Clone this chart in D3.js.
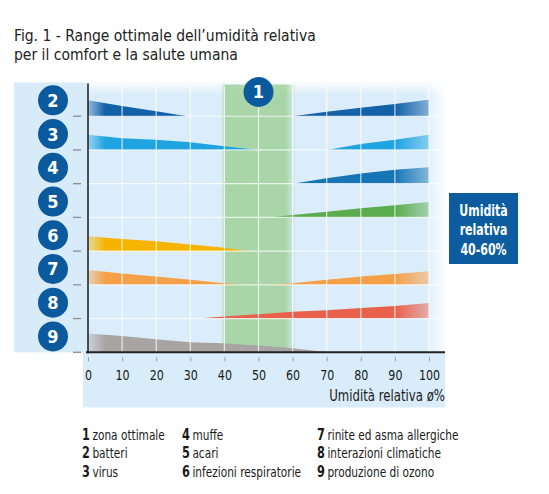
<!DOCTYPE html>
<html>
<head>
<meta charset="utf-8">
<script src="https://cdn.jsdelivr.net/npm/d3@7"></script>
<style>
  html, body { margin: 0; padding: 0; background: #fff; }
  svg { display: block; }
  text { font-family: "DejaVu Sans Condensed", "Liberation Sans Narrow", sans-serif; }
</style>
</head>
<body>
<div id="chart"></div>
<script>
// dati
const titleLines = ['Fig. 1  - Range ottimale dell\u2019umidità relativa', 'per il comfort e la salute umana'];
const rowIds = ['2', '3', '4', '5', '6', '7', '8', '9'];
const xTicks = [0, 10, 20, 30, 40, 50, 60, 70, 80, 90, 100];
const optimalRange = [40, 60];
const boxLines = ['Umidità', 'relativa', '40-60%'];
const axisTitle = 'Umidità relativa ø%';

// legenda: [numero, testo]
const legendCol1 = [['1', 'zona ottimale'], ['2', 'batteri'], ['3', 'virus']];
const legendCol2 = [['4', 'muffe'], ['5', 'acari'], ['6', 'infezioni respiratorie']];
const legendCol3 = [['7', 'rinite ed asma allergiche'], ['8', 'interazioni climatiche'], ['9', 'produzione di ozono']];

// cunei: [umidità %, intensità relativa 0-1 della riga]
const batteriLeft  = [[0, 0.47], [10, 0.30], [20, 0.15], [29, 0]];
const batteriRight = [[60, 0], [70, 0.13], [80, 0.25], [90, 0.36], [100, 0.49]];
const virusLeft    = [[0, 0.45], [10, 0.35], [20, 0.30], [30, 0.23], [40, 0.11], [50, 0]];
const virusRight   = [[70, 0], [80, 0.18], [90, 0.30], [100, 0.45]];
const muffeRight   = [[60, 0], [70, 0.16], [80, 0.30], [90, 0.41], [100, 0.49]];
const acariRight   = [[53, 0], [60, 0.07], [70, 0.17], [80, 0.27], [90, 0.36], [100, 0.46]];
const infezLeft    = [[0, 0.44], [10, 0.36], [20, 0.29], [30, 0.20], [40, 0.10], [47, 0]];
const riniteLeft   = [[0, 0.44], [10, 0.34], [20, 0.25], [30, 0.15], [40, 0.05], [47, 0]];
const riniteRight  = [[52, 0], [60, 0.05], [70, 0.15], [80, 0.25], [90, 0.32], [100, 0.40]];
const interazRight = [[32, 0], [38, 0.05], [50, 0.13], [60, 0.20], [70, 0.25], [80, 0.31], [90, 0.37], [100, 0.46]];
const ozonoLeft    = [[0, 0.56], [10, 0.48], [20, 0.39], [30, 0.30], [40, 0.27], [50, 0.20], [60, 0.12], [70.5, 0]];

// stili
const rowColors = { '2': '#1361a7', '3': '#1fa3e1', '4': '#1676b5', '5': '#5aac4f',
                    '6': '#f6b400', '7': '#f5a048', '8': '#e9604b', '9': '#a9a4a4' };
const badgeColor = '#0b5a9e';

const wedges = [
  { row: '2', side: 'left',  pts: batteriLeft },
  { row: '2', side: 'right', pts: batteriRight },
  { row: '3', side: 'left',  pts: virusLeft },
  { row: '3', side: 'right', pts: virusRight },
  { row: '4', side: 'right', pts: muffeRight },
  { row: '5', side: 'right', pts: acariRight },
  { row: '6', side: 'left',  pts: infezLeft },
  { row: '7', side: 'left',  pts: riniteLeft },
  { row: '7', side: 'right', pts: riniteRight },
  { row: '8', side: 'right', pts: interazRight },
  { row: '9', side: 'left',  pts: ozonoLeft }
];

const W = 549, H = 494;
const svg = d3.select('#chart').append('svg').attr('width', W).attr('height', H);
const defs = svg.append('defs');

// il font della figura è più stretto: comprime il testo in orizzontale attorno al suo x
function condense(sel, f) {
  sel.each(function () {
    const x0 = +this.getAttribute('x') || 0;
    d3.select(this).attr('transform', `translate(${x0 * (1 - f)},0) scale(${f},1)`);
  });
}

// scale
const x = d3.scaleLinear().domain([0, 100]).range([88, 429]);
const y = d3.scaleBand().domain(rowIds).range([82.5, 352.3]).padding(0);
const h = d3.scaleLinear().domain([0, 1]).range([0, y.bandwidth()]);
const plotTop = y.range()[0], plotBottom = y.range()[1];
const rightEdge = 447;

// titolo
svg.append('g').selectAll('text').data(titleLines).join('text')
  .attr('x', 14).attr('y', (d, i) => 41 + i * 18.5)
  .attr('font-size', '15.5px').attr('fill', '#222')
  .text(d => d);

// sfondo pannello sinistro
svg.append('rect').attr('x', 14).attr('y', plotTop).attr('width', 74).attr('height', plotBottom - plotTop)
  .attr('fill', '#d7ebf9');

// sfondo area grafico con sfumatura a destra e in alto
const bgGrad = defs.append('linearGradient').attr('id', 'bgFade')
  .attr('gradientUnits', 'userSpaceOnUse').attr('x1', 88).attr('x2', rightEdge).attr('y1', 0).attr('y2', 0);
bgGrad.append('stop').attr('offset', 0).attr('stop-color', '#dbedfa');
bgGrad.append('stop').attr('offset', (x(100) - 92) / (rightEdge - 88)).attr('stop-color', '#dbedfa');
bgGrad.append('stop').attr('offset', 1).attr('stop-color', '#ffffff');
svg.append('rect').attr('x', 88).attr('y', plotTop).attr('width', rightEdge - 88).attr('height', plotBottom - plotTop)
  .attr('fill', 'url(#bgFade)');

const topGrad = defs.append('linearGradient').attr('id', 'topFade')
  .attr('x1', 0).attr('x2', 0).attr('y1', 0).attr('y2', 1);
topGrad.append('stop').attr('offset', 0).attr('stop-color', '#fff').attr('stop-opacity', 0.9);
topGrad.append('stop').attr('offset', 1).attr('stop-color', '#fff').attr('stop-opacity', 0);
svg.append('rect').attr('x', 88).attr('y', plotTop).attr('width', rightEdge - 88).attr('height', 12)
  .attr('fill', 'url(#topFade)');

// striscia sotto l'asse
svg.append('rect').attr('x', 83).attr('y', plotBottom).attr('width', 445 - 83).attr('height', 407.5 - plotBottom)
  .attr('fill', '#d9ecf9');

// fascia ottimale 40-60%
const gGrad = defs.append('linearGradient').attr('id', 'greenBand')
  .attr('gradientUnits', 'userSpaceOnUse')
  .attr('x1', x(optimalRange[0] - 1)).attr('x2', x(optimalRange[1] + 1)).attr('y1', 0).attr('y2', 0);
[[0, 0], [0.06, 0.8], [0.86, 0.8], [1, 0]].forEach(([o, a]) =>
  gGrad.append('stop').attr('offset', o).attr('stop-color', '#9ccf93').attr('stop-opacity', a));
svg.append('rect')
  .attr('x', x(optimalRange[0] - 1)).attr('y', plotTop + 2)
  .attr('width', x(optimalRange[1] + 1) - x(optimalRange[0] - 1)).attr('height', plotBottom - plotTop - 2)
  .attr('fill', 'url(#greenBand)');

// cunei
const area = d3.area()
  .x(d => x(d[0]))
  .y0(0)
  .y1(d => -h(d[1]));

wedges.forEach((w, i) => {
  const col = rowColors[w.row];
  const grad = defs.append('linearGradient').attr('id', 'wg' + i)
    .attr('gradientUnits', 'userSpaceOnUse').attr('y1', 0).attr('y2', 0);
  if (w.side === 'left') {
    grad.attr('x1', x(0)).attr('x2', x(5));
    grad.append('stop').attr('offset', 0).attr('stop-color', col).attr('stop-opacity', 0.35);
    grad.append('stop').attr('offset', 1).attr('stop-color', col).attr('stop-opacity', 1);
  } else {
    grad.attr('x1', x(90)).attr('x2', x(100));
    grad.append('stop').attr('offset', 0).attr('stop-color', col).attr('stop-opacity', 1);
    grad.append('stop').attr('offset', 1).attr('stop-color', col).attr('stop-opacity', 0.45);
  }
  svg.append('path')
    .attr('transform', `translate(0,${y(w.row) + y.bandwidth()})`)
    .attr('d', area(w.pts))
    .attr('fill', `url(#wg${i})`);
});

// griglia bianca
svg.append('g').selectAll('line').data(xTicks.slice(1)).join('line')
  .attr('x1', d => x(d)).attr('x2', d => x(d))
  .attr('y1', plotTop + 4).attr('y2', plotBottom)
  .attr('stroke', '#fff').attr('stroke-opacity', 0.75).attr('stroke-width', 1.2);
svg.append('g').selectAll('line').data(rowIds.slice(0, -1)).join('line')
  .attr('x1', 88).attr('x2', 440)
  .attr('y1', d => y(d) + y.bandwidth()).attr('y2', d => y(d) + y.bandwidth())
  .attr('stroke', '#fff').attr('stroke-opacity', 0.75).attr('stroke-width', 1.2);

// trattini a sinistra
svg.append('g').selectAll('line').data(rowIds).join('line')
  .attr('x1', 73).attr('x2', 81)
  .attr('y1', d => y(d) + y.bandwidth()).attr('y2', d => y(d) + y.bandwidth())
  .attr('stroke', '#8a8f96').attr('stroke-width', 1.3);

// assi
svg.append('line').attr('x1', 88).attr('x2', 88).attr('y1', plotTop + 1).attr('y2', plotBottom + 1)
  .attr('stroke', '#1a1a1a').attr('stroke-width', 1.5);
svg.append('line').attr('x1', 86).attr('x2', 445).attr('y1', plotBottom).attr('y2', plotBottom)
  .attr('stroke', '#222').attr('stroke-width', 2);

const xAxis = svg.append('g').attr('transform', `translate(0,${plotBottom + 5})`)
  .call(d3.axisBottom(x).tickValues(xTicks).tickSize(4).tickPadding(6).tickFormat(d3.format('d')));
xAxis.select('.domain').remove();
xAxis.selectAll('.tick line').attr('stroke', '#9aa0a6');
xAxis.selectAll('.tick text')
  .attr('font-family', '"DejaVu Sans Condensed", "Liberation Sans Narrow", sans-serif')
  .attr('font-size', '14px').attr('fill', '#1a1a1a').attr('dy', '0.9em')
  .call(condense, 0.88);

svg.append('text').attr('x', 445).attr('y', 401).attr('text-anchor', 'end')
  .attr('font-size', '15px').attr('fill', '#1a1a1a').text(axisTitle)
  .call(condense, 0.87);

// badge numerati
const badges = svg.append('g').selectAll('g').data(rowIds).join('g')
  .attr('transform', d => `translate(53,${y(d) + y.bandwidth() / 2 + 1})`);
badges.append('circle').attr('r', 15).attr('fill', badgeColor);
badges.append('text').attr('text-anchor', 'middle').attr('dy', '0.36em')
  .attr('font-size', '18px').attr('font-weight', 'bold').attr('fill', '#fff')
  .text(d => d);

const b1 = svg.append('g').attr('transform', `translate(${x(d3.mean(optimalRange))},92)`);
b1.append('circle').attr('r', 15).attr('fill', badgeColor);
b1.append('text').attr('text-anchor', 'middle').attr('dy', '0.36em')
  .attr('font-size', '18px').attr('font-weight', 'bold').attr('fill', '#fff').text('1');

// riquadro destro
svg.append('rect').attr('x', 449).attr('y', 193).attr('width', 69).attr('height', 71).attr('fill', '#0c5c9f');
svg.append('g').selectAll('text').data(boxLines).join('text')
  .attr('x', 483.5).attr('y', (d, i) => 216 + i * 19.5).attr('text-anchor', 'middle')
  .attr('font-size', '15.5px').attr('font-weight', 'bold').attr('fill', '#fff')
  .text(d => d)
  .call(condense, 0.79);

// legenda
const legendCols = [legendCol1, legendCol2, legendCol3];
const legendX = [82, 182, 317];
legendCols.forEach((col, ci) => {
  const t = svg.append('g').selectAll('text').data(col).join('text')
    .attr('x', legendX[ci]).attr('y', (d, i) => 440 + i * 18.5)
    .attr('font-size', '14px').attr('fill', '#1a1a1a');
  t.append('tspan').attr('font-weight', 'bold').attr('font-size', '15px').text(d => d[0]);
  t.append('tspan').attr('dx', 3).text(d => d[1]);
  t.call(condense, 0.84);
});
</script>
</body>
</html>
